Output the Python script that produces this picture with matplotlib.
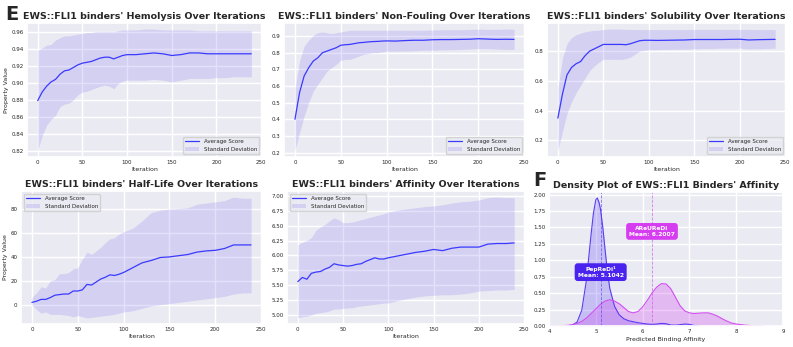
import numpy as np
import matplotlib
matplotlib.use("Agg")
import matplotlib.pyplot as plt
import seaborn as sns

sns.set_theme(style="darkgrid")
plt.rcParams['font.family'] = ['DejaVu Sans']

# 迭代次数（采样点）
iters = [0, 5, 10, 15, 20, 25, 30, 35, 40, 45, 50, 55, 60, 65, 70, 75, 80, 85, 90, 95,
         100, 110, 120, 130, 140, 150, 160, 170, 180, 190, 200, 210, 220, 230, 239]

# Hemolysis
hemo_mean = [0.879, 0.889, 0.896, 0.901, 0.904, 0.910, 0.914, 0.915, 0.918, 0.921, 0.923, 0.924,
             0.925, 0.927, 0.929, 0.930, 0.930, 0.928, 0.930, 0.932, 0.933, 0.933, 0.934, 0.935,
             0.934, 0.932, 0.933, 0.935, 0.935, 0.934, 0.934, 0.934, 0.934, 0.934, 0.934]
hemo_hi = [0.938, 0.941, 0.944, 0.945, 0.950, 0.953, 0.955, 0.955, 0.956, 0.957, 0.958, 0.959,
           0.959, 0.960, 0.960, 0.960, 0.960, 0.960, 0.961, 0.962, 0.962, 0.962, 0.963, 0.963,
           0.962, 0.962, 0.962, 0.962, 0.961, 0.961, 0.961, 0.961, 0.961, 0.961, 0.961]
hemo_lo = [0.820, 0.838, 0.850, 0.857, 0.862, 0.872, 0.875, 0.876, 0.880, 0.886, 0.889, 0.890,
           0.892, 0.894, 0.896, 0.897, 0.896, 0.893, 0.899, 0.902, 0.903, 0.903, 0.903, 0.904,
           0.903, 0.901, 0.903, 0.905, 0.905, 0.905, 0.906, 0.906, 0.907, 0.907, 0.907]

# Non-Fouling
nf_mean = [0.40, 0.56, 0.66, 0.71, 0.75, 0.77, 0.80, 0.81, 0.82, 0.83, 0.845, 0.848, 0.850,
           0.855, 0.860, 0.862, 0.865, 0.867, 0.868, 0.870, 0.871, 0.870, 0.873, 0.875, 0.875,
           0.878, 0.879, 0.879, 0.880, 0.881, 0.884, 0.882, 0.880, 0.881, 0.880]
nf_hi = [0.58, 0.75, 0.84, 0.875, 0.905, 0.92, 0.925, 0.92, 0.915, 0.92, 0.925, 0.93, 0.935,
         0.935, 0.935, 0.935, 0.935, 0.935, 0.935, 0.935, 0.935, 0.935, 0.935, 0.935, 0.935,
         0.937, 0.938, 0.938, 0.938, 0.940, 0.942, 0.940, 0.940, 0.942, 0.940]
nf_lo = [0.21, 0.32, 0.42, 0.50, 0.57, 0.61, 0.65, 0.69, 0.71, 0.73, 0.755, 0.76, 0.76, 0.77,
         0.78, 0.79, 0.795, 0.80, 0.80, 0.805, 0.81, 0.81, 0.81, 0.812, 0.815, 0.815, 0.817,
         0.818, 0.82, 0.822, 0.825, 0.825, 0.822, 0.82, 0.82]

# Solubility
sol_mean = [0.35, 0.51, 0.64, 0.69, 0.715, 0.73, 0.77, 0.80, 0.815, 0.83, 0.845, 0.845, 0.845,
            0.845, 0.845, 0.843, 0.85, 0.86, 0.87, 0.873, 0.873, 0.872, 0.873, 0.874, 0.875,
            0.878, 0.878, 0.878, 0.878, 0.879, 0.880, 0.875, 0.877, 0.878, 0.879]
sol_hi = [0.55, 0.75, 0.85, 0.89, 0.91, 0.92, 0.93, 0.935, 0.94, 0.94, 0.945, 0.947, 0.948,
          0.948, 0.947, 0.946, 0.946, 0.945, 0.945, 0.945, 0.945, 0.945, 0.945, 0.945, 0.945,
          0.946, 0.946, 0.946, 0.946, 0.946, 0.946, 0.946, 0.945, 0.945, 0.945]
sol_lo = [0.13, 0.26, 0.38, 0.46, 0.52, 0.57, 0.62, 0.67, 0.70, 0.725, 0.745, 0.745, 0.745,
          0.745, 0.745, 0.75, 0.76, 0.78, 0.80, 0.805, 0.81, 0.81, 0.812, 0.812, 0.813, 0.815,
          0.817, 0.818, 0.82, 0.82, 0.82, 0.815, 0.815, 0.818, 0.82]
sol_ticks = [0.2, 0.4, 0.6, 0.8]

# Half-Life
hl_mean = [2, 3, 4.5, 4.5, 6, 8, 8.5, 9, 9, 11.5, 11.5, 12.5, 17, 16.5, 19, 21.5, 23, 25, 24.5,
           25.5, 27, 31, 35, 37, 39.5, 40, 41, 42, 44, 45, 45.5, 47, 50, 50, 50]
hl_hi = [6, 10, 15, 14, 20, 21, 26, 26, 27, 30, 31, 38, 44, 42, 45, 48, 52, 55, 56, 59, 61, 64,
         70, 77, 79, 80, 80.5, 81, 84, 85, 86, 87, 90, 89, 89]
hl_lo = [0, -4, -7, -6, -8, -8, -8, -8.5, -9, -10, -9, -10, -11, -10.5, -10, -9.5, -9, -8.5, -8,
         -7, -6, -5, -3, -1, 0, 1, 2, 3, 4, 5, 6, 7, 9, 10, 10]

# Affinity
aff_mean = [5.56, 5.63, 5.60, 5.70, 5.72, 5.73, 5.77, 5.80, 5.86, 5.84, 5.83, 5.82, 5.83, 5.85,
            5.86, 5.90, 5.93, 5.96, 5.94, 5.94, 5.96, 5.99, 6.02, 6.05, 6.07, 6.10, 6.08, 6.12,
            6.14, 6.14, 6.14, 6.19, 6.20, 6.20, 6.21]
aff_hi = [6.18, 6.22, 6.25, 6.30, 6.42, 6.48, 6.52, 6.58, 6.63, 6.60, 6.55, 6.55, 6.56, 6.58,
          6.60, 6.62, 6.64, 6.66, 6.68, 6.70, 6.73, 6.76, 6.78, 6.80, 6.82, 6.83, 6.85, 6.88,
          6.90, 6.91, 6.93, 6.97, 6.98, 6.97, 6.97]
aff_lo = [4.95, 4.97, 4.98, 5.00, 5.03, 5.04, 5.05, 5.07, 5.10, 5.10, 5.11, 5.12, 5.12, 5.14,
          5.15, 5.16, 5.17, 5.18, 5.19, 5.20, 5.20, 5.24, 5.27, 5.30, 5.32, 5.33, 5.34, 5.34,
          5.35, 5.37, 5.40, 5.41, 5.42, 5.42, 5.43]

# 密度曲线
pep_x = [4.3, 4.4, 4.5, 4.6, 4.7, 4.8, 4.9, 4.95, 5.0, 5.03, 5.07, 5.1, 5.15, 5.2, 5.25, 5.3,
         5.4, 5.5, 5.6, 5.7, 5.8, 5.9, 6.0, 6.1, 6.2, 6.3, 6.4, 6.5, 6.6, 6.7, 6.8, 6.9, 7.0,
         7.1, 7.2]
pep_y = [0, 0.003, 0.015, 0.06, 0.24, 0.70, 1.40, 1.72, 1.92, 1.95, 1.88, 1.78, 1.50, 1.15,
         0.82, 0.57, 0.30, 0.17, 0.11, 0.08, 0.065, 0.05, 0.04, 0.03, 0.025, 0.03, 0.04, 0.035,
         0.015, 0.012, 0.02, 0.03, 0.025, 0.008, 0]
are_x = [4.0, 4.2, 4.4, 4.5, 4.6, 4.7, 4.8, 4.9, 5.0, 5.1, 5.2, 5.3, 5.4, 5.5, 5.6, 5.7, 5.8,
         5.9, 6.0, 6.1, 6.2, 6.3, 6.4, 6.5, 6.6, 6.7, 6.8, 6.9, 7.0, 7.1, 7.2, 7.3, 7.4, 7.5,
         7.6, 7.7, 7.8, 7.9, 8.0, 8.2, 8.4, 8.6]
are_y = [0.0, 0.003, 0.01, 0.02, 0.04, 0.07, 0.12, 0.19, 0.26, 0.33, 0.38, 0.40, 0.38, 0.34,
         0.28, 0.22, 0.20, 0.22, 0.29, 0.39, 0.50, 0.59, 0.645, 0.64, 0.57, 0.44, 0.31, 0.23,
         0.20, 0.19, 0.195, 0.20, 0.20, 0.18, 0.15, 0.11, 0.075, 0.045, 0.03, 0.012, 0.003, 0.0]
pep_mean = 5.1042
are_mean = 6.2007

W, H = 793, 347
fig = plt.figure(figsize=(W / 100, H / 100), dpi=100)


def ax_px(x0, x1, y0, y1):
    return fig.add_axes([x0 / W, 1 - y1 / H, (x1 - x0) / W, (y1 - y0) / H])


def line_panel(ax, mean, lo, hi, name, loc, ylabel=True):
    ax.plot(iters, mean, color='#3a3aff', lw=0.9, label='Average Score')
    ax.fill_between(iters, lo, hi, color='mediumslateblue', alpha=0.2, lw=0,
                    label='Standard Deviation')
    ax.set_title("EWS::FLI1 binders' %s Over Iterations" % name, fontsize=6.8,
                 fontweight='bold', pad=3)
    ax.set_xlabel('Iteration', fontsize=4.5, labelpad=1)
    if ylabel:
        ax.set_ylabel('Property Value', fontsize=4.5, labelpad=2)
    ax.set_xticks([0, 50, 100, 150, 200, 250])
    ax.tick_params(labelsize=4, pad=2.5, length=0)
    ax.legend(loc=loc, fontsize=4, handlelength=2.6)


ax1 = ax_px(27, 262, 23, 157)
line_panel(ax1, hemo_mean, hemo_lo, hemo_hi, 'Hemolysis', 'lower right')
ax2 = ax_px(284, 525, 23, 157)
line_panel(ax2, nf_mean, nf_lo, nf_hi, 'Non-Fouling', 'lower right', ylabel=False)
ax3 = ax_px(547, 786, 23, 157)
line_panel(ax3, sol_mean, sol_lo, sol_hi, 'Solubility', 'lower right', ylabel=False)
ax3.set_yticks(sol_ticks)
ax4 = ax_px(21, 262, 191, 324)
line_panel(ax4, hl_mean, hl_lo, hl_hi, 'Half-Life', 'upper left')
ax5 = ax_px(287, 525, 191, 324)
line_panel(ax5, aff_mean, aff_lo, aff_hi, 'Affinity', 'upper left', ylabel=False)

# 密度图
ax6 = ax_px(549, 783, 192, 326)
pep_c = '#5a3cf5'
are_c = '#d24ef0'
ax6.fill_between(pep_x, 0, pep_y, color=pep_c, alpha=0.25, lw=0)
ax6.plot(pep_x, pep_y, color=pep_c, lw=0.8)
ax6.fill_between(are_x, 0, are_y, color=are_c, alpha=0.3, lw=0)
ax6.plot(are_x, are_y, color=are_c, lw=0.8)
ax6.axvline(pep_mean, color=pep_c, lw=0.6, ls='--', alpha=0.7)
ax6.axvline(are_mean, color=are_c, lw=0.6, ls='--', alpha=0.7)
ax6.text(pep_mean, 0.82, 'PepReDi\u00b9\nMean: %.4f' % pep_mean, ha='center', va='center',
         fontsize=4.3, color='white', fontweight='bold',
         bbox=dict(boxstyle='round,pad=0.5', fc='#4a24ee', ec='none'))
ax6.text(are_mean, 1.44, 'AReUReDi\nMean: %.4f' % are_mean, ha='center', va='center',
         fontsize=4.3, color='white', fontweight='bold',
         bbox=dict(boxstyle='round,pad=0.5', fc='#d63cf0', ec='none'))
ax6.set_xlim(4, 9)
ax6.set_ylim(0, 2.04)
ax6.set_yticks(np.arange(0, 2.01, 0.25))
ax6.set_title("Density Plot of EWS::FLI1 Binders' Affinity", fontsize=6.8,
              fontweight='bold', pad=3)
ax6.set_xlabel('Predicted Binding Affinity', fontsize=4.5, labelpad=2)
ax6.tick_params(labelsize=4, pad=2.5, length=0)

fig.text(5 / W, 1 - 5 / H, 'E', fontsize=14, fontweight='bold', va='top')
fig.text(533 / W, 1 - 171 / H, 'F', fontsize=14, fontweight='bold', va='top')

fig.savefig('out.png', dpi=100)
